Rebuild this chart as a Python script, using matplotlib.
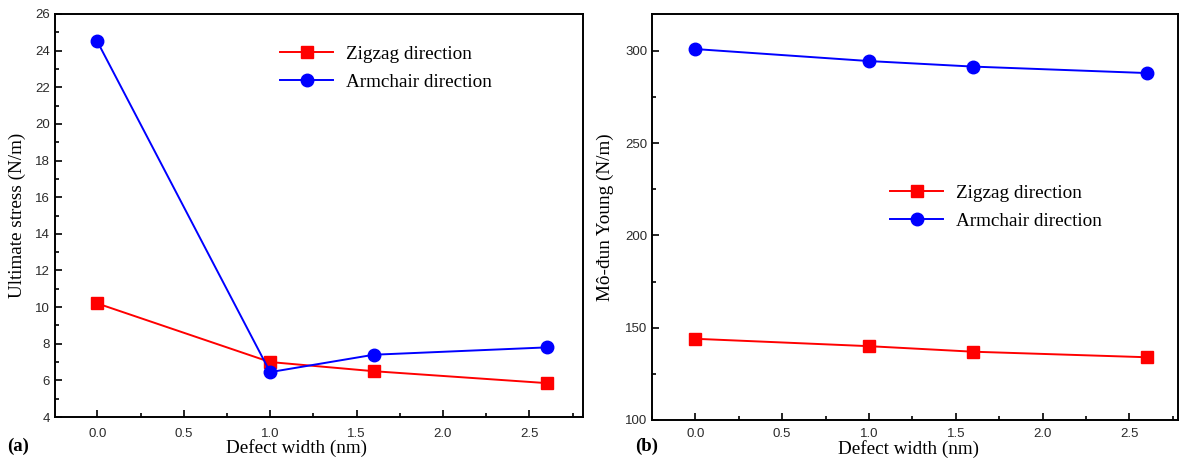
import matplotlib.pyplot as plt
from matplotlib.ticker import MultipleLocator

# defect widths (nm)
width = [0.0, 1.0, 1.6, 2.6]

# ultimate stress (N/m)
stress_zigzag = [10.2, 7.0, 6.5, 5.85]
stress_armchair = [24.5, 6.45, 7.4, 7.8]

# Young's modulus (N/m)
young_zigzag = [144, 140, 137, 134]
young_armchair = [301, 294.5, 291.5, 288]

serif = 'Liberation Serif'
sans = 'Liberation Sans'
fs = 13.8

fig = plt.figure(figsize=(11.82, 4.59), dpi=100)
ax1 = fig.add_axes([0.0465, 0.0915, 0.4467, 0.878])
ax2 = fig.add_axes([0.5516, 0.085, 0.445, 0.8845])


def style_axis(ax, ymajor, yminor, xlab_pos, xlab_y, xpad):
    ax.xaxis.set_major_locator(MultipleLocator(0.5))
    ax.xaxis.set_minor_locator(MultipleLocator(0.25))
    ax.yaxis.set_major_locator(MultipleLocator(ymajor))
    ax.yaxis.set_minor_locator(MultipleLocator(yminor))
    ax.tick_params(which='both', direction='in', top=False, right=False,
                   labelsize=9.5, labelcolor='#2a2a2a', width=1.2)
    ax.tick_params(which='major', length=5)
    ax.tick_params(which='minor', length=3)
    ax.tick_params(axis='x', pad=xpad)
    for lab in ax.get_xticklabels() + ax.get_yticklabels():
        lab.set_family(sans)
    for sp in ax.spines.values():
        sp.set_linewidth(1.4)
    ax.set_xlabel('Defect width (nm)', family=serif, fontsize=fs)
    ax.xaxis.set_label_coords(xlab_pos, xlab_y)


def draw(ax, zz, ac):
    ax.plot(width, zz, color='#ff0000', marker='s', markersize=8,
            linewidth=1.4, label='Zigzag direction')
    ax.plot(width, ac, color='#0000ff', marker='o', markersize=9,
            linewidth=1.4, label='Armchair direction')


legend_opts = dict(loc='upper left', frameon=False,
                   prop={'family': serif, 'size': fs}, handlelength=2.75,
                   handletextpad=0.7, labelspacing=0.55)

draw(ax1, stress_zigzag, stress_armchair)
ax1.set_xlim(-0.245, 2.81)
ax1.set_ylim(4, 26)
style_axis(ax1, 2, 1, 0.457, -0.055, 8)
ax1.set_ylabel('Ultimate stress (N/m)', family=serif, fontsize=fs)
ax1.yaxis.set_label_coords(-0.055, 0.5)
ax1.legend(bbox_to_anchor=(0.394, 0.965), **legend_opts)

draw(ax2, young_zigzag, young_armchair)
ax2.set_xlim(-0.25, 2.78)
ax2.set_ylim(100, 320)
style_axis(ax2, 50, 25, 0.487, -0.05, 5.5)
ax2.set_ylabel('Mô-đun Young (N/m)', family=serif, fontsize=fs)
ax2.yaxis.set_label_coords(-0.072, 0.5)
ax2.legend(bbox_to_anchor=(0.42, 0.623), **legend_opts)

fig.text(0.006, 0.018, '(a)', family=serif, fontsize=13.5, fontweight='bold')
fig.text(0.537, 0.018, '(b)', family=serif, fontsize=13.5, fontweight='bold')

fig.savefig('out.png', dpi=100)
